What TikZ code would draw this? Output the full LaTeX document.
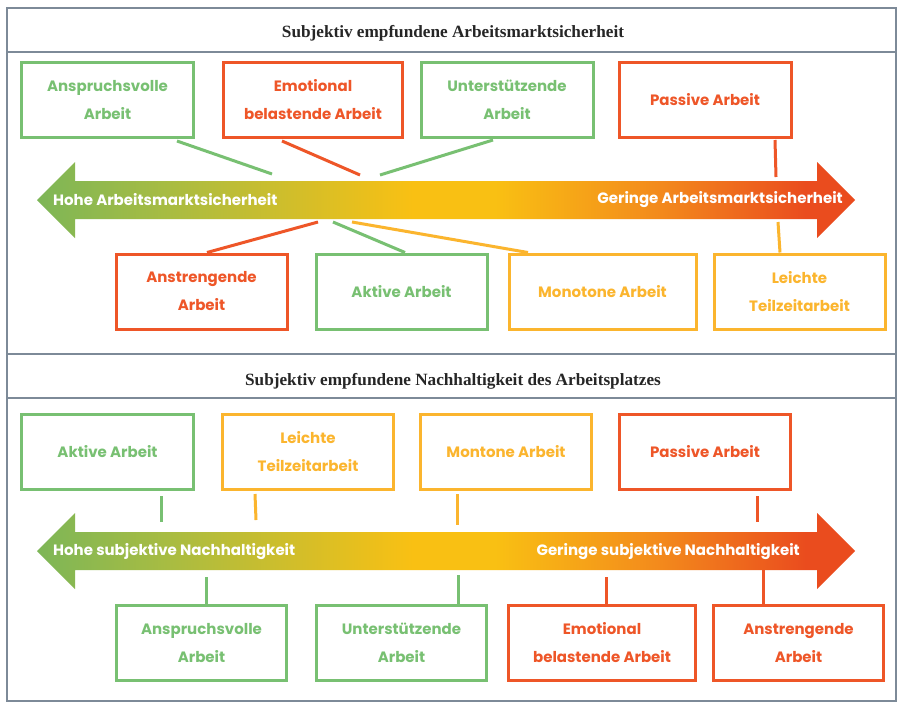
\documentclass[tikz,border=0pt]{standalone}
\usepackage{fontspec}
\setmainfont{Liberation Serif}
\newfontfamily\boxfont{Poppins}
\definecolor{cgreen}{HTML}{78C072}
\definecolor{cred}{HTML}{EE5628}
\definecolor{cyellow}{HTML}{FBB52E}
\definecolor{cframe}{HTML}{7D8A98}
\definecolor{agreen}{HTML}{7DB657}
\definecolor{agreenb}{HTML}{A8BC42}
\definecolor{ayellow}{HTML}{F9C013}
\definecolor{aorange}{HTML}{F38A1C}
\definecolor{ared}{HTML}{EA4C1E}
\pgfdeclarehorizontalshading{arrowshade}{100bp}{color(0bp)=(agreen); color(25bp)=(agreen); color(33bp)=(agreenb); color(48bp)=(ayellow); color(53bp)=(ayellow); color(63bp)=(aorange); color(72bp)=(ared); color(75bp)=(ared); color(100bp)=(ared)}
\tikzset{
  frame/.style={draw=cframe, line width=2pt},
  box/.style={draw, line width=3pt, minimum height=75pt, inner sep=2pt, fill=white,
    font=\boxfont\bfseries\fontsize{15}{28}\selectfont, align=center},
  gbox/.style={box, draw=cgreen, text=cgreen},
  rbox/.style={box, draw=cred, text=cred},
  ybox/.style={box, draw=cyellow, text=cyellow},
  conn/.style={line width=3pt},
  arrowtext/.style={text=white, font=\boxfont\bfseries\fontsize{15}{18}\selectfont, inner sep=0pt},
  title/.style={font=\bfseries\fontsize{17.2}{20}\selectfont, text=black!85}
}
\begin{document}
\begin{tikzpicture}[x=1pt,y=-1pt]
\useasboundingbox (0,0) rectangle (899,702);
\fill[white] (0,0) rectangle (899,702);
% frame
\draw[frame] (7,8) rectangle (896,701);
\draw[frame] (7,52) -- (896,52);
\draw[frame] (7,354) -- (896,354);
\draw[frame] (7,398) -- (896,398);
\node[title] (t1) at (453,33) {Subjektiv empfundene Arbeitsmarktsicherheit};
\node[title] (t2) at (453,381) {Subjektiv empfundene Nachhaltigkeit des Arbeitsplatzes};

% ---------- panel 1 ----------
\path[shading=arrowshade] (37,200) -- (75,162) -- (75,181) -- (817,181) -- (817,162) -- (855,200) -- (817,238) -- (817,219) -- (75,219) -- (75,238) -- cycle;
\node[arrowtext, anchor=west] (h1) at (53,200) {Hohe Arbeitsmarktsicherheit};
\node[arrowtext, anchor=east] (g1) at (843,200) {Geringe Arbeitsmarktsicherheit};

\node[gbox, minimum width=172pt] (A1) at (107.5,100) {Anspruchsvolle\\Arbeit};
\node[rbox, minimum width=179pt] (E1) at (313,100) {Emotional\\belastende Arbeit};
\node[gbox, minimum width=172pt] (U1) at (507,100) {Unterstützende\\Arbeit};
\node[rbox, minimum width=172pt] (P1) at (705,100) {Passive Arbeit};

\node[rbox, minimum width=171pt] (An1) at (201.5,291.5) {Anstrengende\\Arbeit};
\node[gbox, minimum width=171pt] (Ak1) at (401.5,291.5) {Aktive Arbeit};
\node[ybox, minimum width=187pt] (M1) at (602.5,291.5) {Monotone Arbeit};
\node[ybox, minimum width=171pt] (L1) at (799.5,291.5) {Leichte\\Teilzeitarbeit};

\coordinate (a1) at (272,174);
\coordinate (e1) at (360,175);
\coordinate (u1) at (380,175);
\coordinate (p1) at (776,177);
\coordinate (an1) at (318,222);
\coordinate (ak1) at (333,222);
\coordinate (m1) at (352,222);
\coordinate (l1) at (778,222);

\draw[conn, cgreen] ([xshift=69.5pt,yshift=-2pt]A1.south) -- (a1);
\draw[conn, cred] ([xshift=-31pt,yshift=-2pt]E1.south) -- (e1);
\draw[conn, cgreen] ([xshift=-14pt,yshift=-1pt]U1.south) -- (u1);
\draw[conn, cred] ([xshift=70pt,yshift=-1pt]P1.south) -- (p1);
\draw[conn, cred] (an1) -- ([xshift=5.5pt]An1.north);
\draw[conn, cgreen] (ak1) -- ([xshift=3.5pt]Ak1.north);
\draw[conn, cyellow] (m1) -- ([xshift=-74.5pt]M1.north);
\draw[conn, cyellow] (l1) -- ([xshift=-19.5pt]L1.north);

% ---------- panel 2 ----------
\path[shading=arrowshade] (37,551) -- (75,513) -- (75,532) -- (817,532) -- (817,513) -- (855,551) -- (817,589) -- (817,570) -- (75,570) -- (75,589) -- cycle;
\node[arrowtext, anchor=west] (h2) at (53,552) {Hohe subjektive Nachhaltigkeit};
\node[arrowtext, anchor=east] (g2) at (800,552) {Geringe subjektive Nachhaltigkeit};

\node[gbox, minimum width=172pt] (Ak2) at (107.5,452) {Aktive Arbeit};
\node[ybox, minimum width=171pt] (L2) at (308,452) {Leichte\\Teilzeitarbeit};
\node[ybox, minimum width=171pt] (M2) at (506,452) {Montone Arbeit};
\node[rbox, minimum width=171pt] (P2) at (705,452) {Passive Arbeit};

\node[gbox, minimum width=170pt] (An2) at (201.5,643) {Anspruchsvolle\\Arbeit};
\node[gbox, minimum width=170pt] (U2) at (401.5,643) {Unterstützende\\Arbeit};
\node[rbox, minimum width=187pt] (E2) at (602,643) {Emotional\\belastende Arbeit};
\node[rbox, minimum width=170pt] (As2) at (798.5,643) {Anstrengende\\Arbeit};

\coordinate (ak2) at (161,522);
\coordinate (l2) at (256,520);
\coordinate (m2) at (457,525);
\coordinate (p2) at (757,522);
\coordinate (an2) at (206,577);
\coordinate (u2) at (458,575);
\coordinate (e2) at (606,577);
\coordinate (as2) at (763,570);

\draw[conn, cgreen] ([xshift=53.5pt,yshift=-5pt]Ak2.south) -- (ak2);
\draw[conn, cyellow] ([xshift=-53pt,yshift=-3pt]L2.south) -- (l2);
\draw[conn, cyellow] ([xshift=-49pt,yshift=-3pt]M2.south) -- (m2);
\draw[conn, cred] ([xshift=52pt,yshift=-5pt]P2.south) -- (p2);
\draw[conn, cgreen] (an2) -- ([xshift=4.5pt]An2.north);
\draw[conn, cgreen] (u2) -- ([xshift=56.5pt]U2.north);
\draw[conn, cred] (e2) -- ([xshift=4pt]E2.north);
\draw[conn, cred] (as2) -- ([xshift=-35.5pt]As2.north);
\end{tikzpicture}
\end{document}
